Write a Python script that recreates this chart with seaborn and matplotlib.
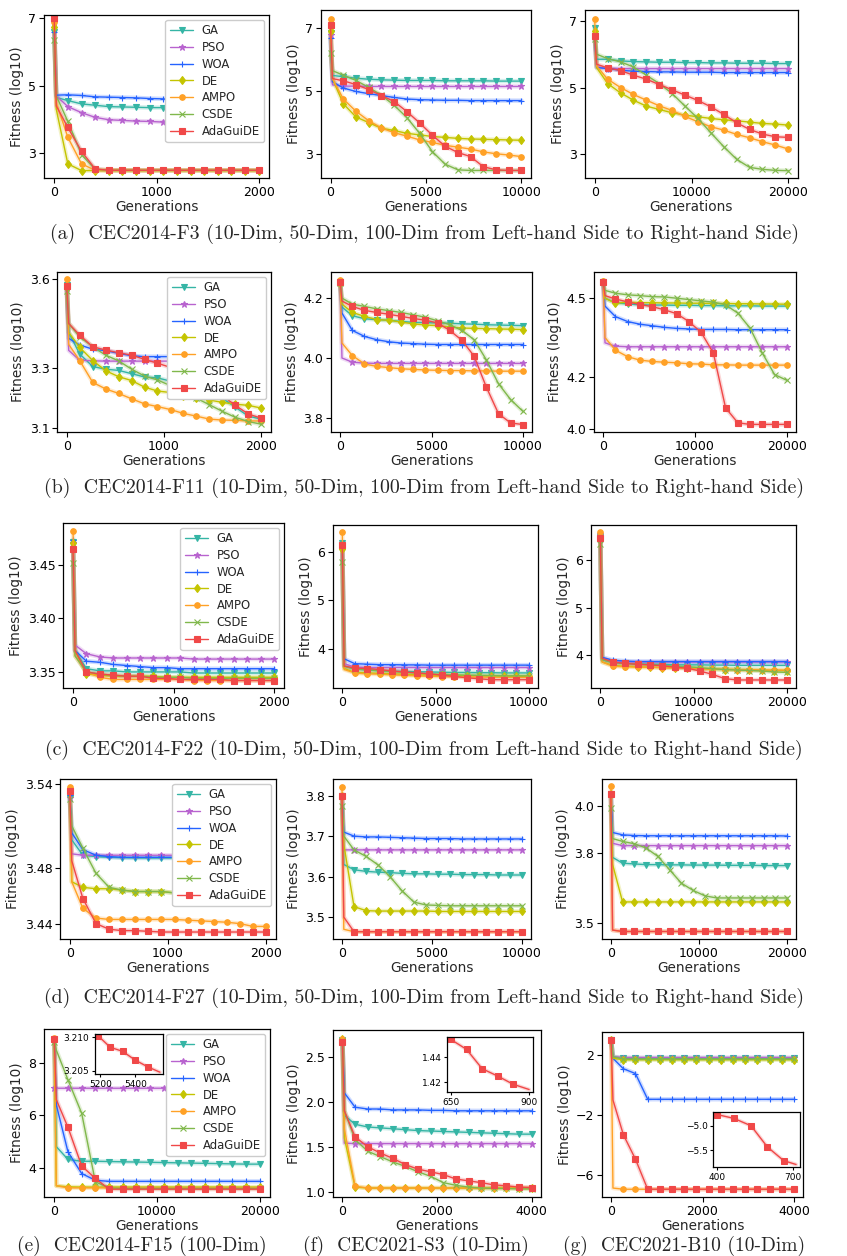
import matplotlib.pyplot as plt
import seaborn as sns

# sample generations: start, one early sample, then the 15 marker positions
GENS_2000 = [0, 20, 133, 267, 400, 533, 667, 800, 933, 1067, 1200, 1333, 1467, 1600, 1733, 1867, 2000]
GENS_4000 = [0, 40, 267, 533, 800, 1067, 1333, 1600, 1867, 2133, 2400, 2667, 2933, 3200, 3467, 3733, 4000]
GENS_10000 = [0, 100, 667, 1333, 2000, 2667, 3333, 4000, 4667, 5333, 6000, 6667, 7333, 8000, 8667, 9333, 10000]
GENS_20000 = [0, 200, 1333, 2667, 4000, 5333, 6667, 8000, 9333, 10667, 12000, 13333, 14667, 16000, 17333, 18667, 20000]

ALGOS = ["GA", "PSO", "WOA", "DE", "AMPO", "CSDE", "AdaGuiDE"]
COLORS = ["#35b5a5", "#b863cf", "#2563ff", "#c4c400", "#ffa126", "#80b84c", "#f04848"]
MARKERS = ["v", "*", "+", "d", "o", "x", "s"]
MSIZES = [4.5, 5, 5, 4.5, 4, 4, 4.3]

# rows: GA, PSO, WOA, DE, AMPO, CSDE, AdaGuiDE  (log10 fitness)
F3_10 = [
    [6.60, 4.65, 4.56, 4.46, 4.42, 4.38, 4.37, 4.36, 4.35, 4.35, 4.34, 4.33, 4.33, 4.32, 4.31, 4.31, 4.30],
    [6.90, 4.70, 4.38, 4.20, 4.06, 3.99, 3.97, 3.95, 3.94, 3.92, 3.91, 3.91, 3.90, 3.90, 3.89, 3.89, 3.88],
    [6.60, 4.72, 4.73, 4.71, 4.67, 4.66, 4.65, 4.64, 4.62, 4.61, 4.60, 4.60, 4.59, 4.58, 4.58, 4.57, 4.57],
    [6.75, 4.30, 2.68, 2.48, 2.48, 2.48, 2.48, 2.48, 2.48, 2.48, 2.48, 2.48, 2.48, 2.48, 2.48, 2.48, 2.48],
    [6.90, 4.50, 3.47, 2.68, 2.49, 2.49, 2.49, 2.49, 2.49, 2.49, 2.49, 2.49, 2.49, 2.49, 2.49, 2.49, 2.49],
    [6.35, 4.70, 3.94, 2.95, 2.52, 2.49, 2.49, 2.49, 2.49, 2.49, 2.49, 2.49, 2.49, 2.49, 2.49, 2.49, 2.49],
    [7.00, 4.40, 3.76, 3.05, 2.53, 2.49, 2.49, 2.49, 2.49, 2.49, 2.49, 2.49, 2.49, 2.49, 2.49, 2.49, 2.49],
]
F3_50 = [
    [6.85, 5.50, 5.46, 5.41, 5.38, 5.36, 5.35, 5.34, 5.34, 5.34, 5.33, 5.33, 5.33, 5.33, 5.32, 5.32, 5.32],
    [6.80, 5.20, 5.16, 5.16, 5.15, 5.15, 5.15, 5.15, 5.15, 5.15, 5.15, 5.15, 5.15, 5.15, 5.15, 5.15, 5.15],
    [6.70, 5.30, 5.10, 4.99, 4.92, 4.86, 4.80, 4.75, 4.73, 4.72, 4.71, 4.71, 4.70, 4.70, 4.70, 4.70, 4.70],
    [6.90, 5.40, 4.60, 4.18, 4.00, 3.82, 3.75, 3.66, 3.61, 3.56, 3.53, 3.50, 3.48, 3.47, 3.46, 3.45, 3.44],
    [7.30, 5.40, 4.75, 4.36, 4.06, 3.83, 3.68, 3.57, 3.45, 3.37, 3.28, 3.22, 3.16, 3.07, 3.01, 2.97, 2.92],
    [6.20, 5.65, 5.51, 5.34, 5.12, 4.87, 4.55, 4.16, 3.66, 3.08, 2.68, 2.50, 2.48, 2.48, 2.48, 2.48, 2.48],
    [7.10, 5.40, 5.33, 5.21, 5.05, 4.86, 4.67, 4.35, 3.99, 3.60, 3.25, 3.05, 2.92, 2.60, 2.50, 2.48, 2.48],
]
F3_100 = [
    [6.80, 5.85, 5.85, 5.80, 5.78, 5.77, 5.76, 5.76, 5.75, 5.75, 5.74, 5.74, 5.73, 5.73, 5.73, 5.72, 5.72],
    [6.60, 5.62, 5.57, 5.57, 5.57, 5.57, 5.57, 5.57, 5.57, 5.57, 5.57, 5.57, 5.57, 5.57, 5.57, 5.57, 5.57],
    [6.50, 5.60, 5.57, 5.52, 5.49, 5.48, 5.47, 5.47, 5.46, 5.46, 5.46, 5.45, 5.45, 5.45, 5.45, 5.45, 5.45],
    [6.70, 5.60, 5.12, 4.84, 4.62, 4.44, 4.34, 4.24, 4.17, 4.12, 4.07, 4.03, 4.00, 3.96, 3.92, 3.90, 3.87],
    [7.05, 5.65, 5.25, 5.00, 4.79, 4.62, 4.45, 4.31, 4.13, 3.97, 3.82, 3.72, 3.59, 3.49, 3.37, 3.27, 3.15],
    [6.45, 6.00, 5.87, 5.77, 5.62, 5.37, 5.12, 4.82, 4.44, 4.07, 3.64, 3.22, 2.84, 2.60, 2.54, 2.51, 2.50],
    [6.55, 5.70, 5.59, 5.51, 5.37, 5.25, 5.09, 4.93, 4.77, 4.61, 4.42, 4.19, 3.94, 3.74, 3.60, 3.52, 3.50],
]
F11_10 = [
    [3.580, 3.420, 3.348, 3.306, 3.297, 3.293, 3.282, 3.271, 3.268, 3.257, 3.250, 3.240, 3.225, 3.200, 3.170, 3.140, 3.130],
    [3.570, 3.360, 3.327, 3.325, 3.324, 3.324, 3.324, 3.324, 3.324, 3.324, 3.324, 3.324, 3.324, 3.324, 3.324, 3.324, 3.324],
    [3.580, 3.400, 3.378, 3.364, 3.359, 3.350, 3.342, 3.339, 3.339, 3.339, 3.338, 3.338, 3.338, 3.338, 3.338, 3.338, 3.338],
    [3.570, 3.420, 3.370, 3.326, 3.292, 3.272, 3.259, 3.237, 3.224, 3.219, 3.209, 3.202, 3.194, 3.186, 3.180, 3.176, 3.167],
    [3.600, 3.380, 3.326, 3.253, 3.231, 3.216, 3.198, 3.181, 3.172, 3.162, 3.149, 3.140, 3.130, 3.127, 3.126, 3.124, 3.124],
    [3.560, 3.450, 3.405, 3.372, 3.344, 3.325, 3.297, 3.274, 3.261, 3.242, 3.217, 3.200, 3.178, 3.156, 3.136, 3.122, 3.113],
    [3.575, 3.450, 3.411, 3.372, 3.361, 3.352, 3.344, 3.330, 3.317, 3.303, 3.290, 3.270, 3.240, 3.209, 3.176, 3.147, 3.133],
]
F11_50 = [
    [4.255, 4.170, 4.141, 4.131, 4.128, 4.126, 4.122, 4.119, 4.118, 4.117, 4.116, 4.114, 4.113, 4.111, 4.110, 4.109, 4.108],
    [4.255, 4.000, 3.986, 3.983, 3.982, 3.982, 3.982, 3.982, 3.982, 3.982, 3.982, 3.982, 3.982, 3.982, 3.982, 3.982, 3.982],
    [4.250, 4.150, 4.092, 4.072, 4.061, 4.054, 4.050, 4.048, 4.046, 4.045, 4.045, 4.045, 4.045, 4.045, 4.045, 4.045, 4.045],
    [4.250, 4.180, 4.152, 4.139, 4.128, 4.126, 4.120, 4.114, 4.110, 4.108, 4.103, 4.100, 4.099, 4.098, 4.097, 4.096, 4.095],
    [4.260, 4.050, 4.008, 3.980, 3.972, 3.968, 3.964, 3.962, 3.960, 3.959, 3.958, 3.958, 3.957, 3.957, 3.956, 3.956, 3.956],
    [4.250, 4.200, 4.180, 4.172, 4.164, 4.158, 4.152, 4.144, 4.136, 4.124, 4.111, 4.092, 4.061, 3.994, 3.914, 3.861, 3.822],
    [4.255, 4.190, 4.172, 4.159, 4.152, 4.146, 4.139, 4.132, 4.126, 4.117, 4.092, 4.059, 4.006, 3.903, 3.814, 3.783, 3.778],
]
F11_100 = [
    [4.560, 4.500, 4.483, 4.478, 4.475, 4.474, 4.474, 4.473, 4.473, 4.472, 4.472, 4.471, 4.471, 4.471, 4.470, 4.470, 4.470],
    [4.560, 4.330, 4.317, 4.315, 4.315, 4.315, 4.315, 4.315, 4.315, 4.315, 4.315, 4.315, 4.315, 4.315, 4.315, 4.315, 4.315],
    [4.560, 4.470, 4.430, 4.411, 4.401, 4.395, 4.389, 4.385, 4.383, 4.381, 4.381, 4.381, 4.380, 4.380, 4.380, 4.380, 4.380],
    [4.560, 4.500, 4.481, 4.485, 4.483, 4.483, 4.482, 4.482, 4.481, 4.481, 4.480, 4.480, 4.479, 4.479, 4.478, 4.478, 4.477],
    [4.565, 4.350, 4.302, 4.277, 4.264, 4.259, 4.256, 4.254, 4.250, 4.249, 4.246, 4.246, 4.245, 4.245, 4.245, 4.245, 4.245],
    [4.560, 4.530, 4.519, 4.513, 4.510, 4.506, 4.505, 4.500, 4.495, 4.490, 4.485, 4.475, 4.443, 4.386, 4.291, 4.209, 4.187],
    [4.560, 4.510, 4.497, 4.486, 4.476, 4.468, 4.456, 4.441, 4.411, 4.370, 4.291, 4.082, 4.025, 4.019, 4.019, 4.019, 4.019],
]
F22_10 = [
    [3.471, 3.370, 3.353, 3.351, 3.351, 3.350, 3.350, 3.350, 3.350, 3.350, 3.349, 3.349, 3.349, 3.349, 3.349, 3.349, 3.349],
    [3.470, 3.375, 3.367, 3.364, 3.363, 3.363, 3.363, 3.363, 3.363, 3.363, 3.362, 3.362, 3.362, 3.362, 3.362, 3.362, 3.362],
    [3.473, 3.370, 3.360, 3.359, 3.357, 3.356, 3.355, 3.354, 3.354, 3.353, 3.353, 3.353, 3.353, 3.353, 3.353, 3.353, 3.353],
    [3.470, 3.370, 3.348, 3.347, 3.346, 3.346, 3.346, 3.346, 3.345, 3.345, 3.345, 3.345, 3.345, 3.345, 3.345, 3.345, 3.345],
    [3.482, 3.365, 3.350, 3.345, 3.343, 3.343, 3.343, 3.343, 3.343, 3.343, 3.342, 3.342, 3.342, 3.342, 3.342, 3.342, 3.342],
    [3.452, 3.365, 3.350, 3.348, 3.347, 3.346, 3.346, 3.345, 3.345, 3.345, 3.344, 3.344, 3.344, 3.344, 3.344, 3.344, 3.344],
    [3.465, 3.370, 3.350, 3.348, 3.347, 3.346, 3.346, 3.344, 3.344, 3.343, 3.343, 3.343, 3.343, 3.342, 3.342, 3.342, 3.342],
]
F22_50 = [
    [6.17, 3.65, 3.59, 3.57, 3.555, 3.545, 3.54, 3.535, 3.53, 3.525, 3.52, 3.52, 3.515, 3.515, 3.51, 3.51, 3.51],
    [6.10, 3.70, 3.63, 3.62, 3.62, 3.62, 3.62, 3.62, 3.62, 3.62, 3.62, 3.62, 3.62, 3.62, 3.62, 3.62, 3.62],
    [6.15, 3.80, 3.70, 3.69, 3.68, 3.68, 3.675, 3.675, 3.67, 3.67, 3.67, 3.67, 3.67, 3.67, 3.67, 3.67, 3.67],
    [6.05, 3.60, 3.52, 3.51, 3.50, 3.49, 3.48, 3.47, 3.465, 3.46, 3.455, 3.45, 3.45, 3.445, 3.445, 3.44, 3.44],
    [6.40, 3.58, 3.51, 3.49, 3.485, 3.47, 3.46, 3.45, 3.44, 3.435, 3.43, 3.43, 3.425, 3.425, 3.42, 3.42, 3.42],
    [5.78, 3.65, 3.59, 3.575, 3.555, 3.54, 3.52, 3.51, 3.49, 3.48, 3.47, 3.465, 3.46, 3.455, 3.45, 3.45, 3.45],
    [6.13, 3.65, 3.61, 3.60, 3.58, 3.55, 3.53, 3.51, 3.49, 3.465, 3.44, 3.41, 3.39, 3.37, 3.37, 3.37, 3.37],
]
F22_100 = [
    [6.50, 3.90, 3.84, 3.82, 3.81, 3.80, 3.80, 3.79, 3.79, 3.79, 3.785, 3.785, 3.78, 3.78, 3.78, 3.78, 3.78],
    [6.55, 3.90, 3.85, 3.85, 3.85, 3.85, 3.85, 3.85, 3.85, 3.85, 3.85, 3.85, 3.85, 3.85, 3.85, 3.85, 3.85],
    [6.50, 3.95, 3.89, 3.87, 3.86, 3.86, 3.86, 3.86, 3.86, 3.86, 3.86, 3.86, 3.86, 3.86, 3.86, 3.86, 3.86],
    [6.50, 3.85, 3.78, 3.76, 3.75, 3.74, 3.73, 3.73, 3.72, 3.71, 3.70, 3.69, 3.69, 3.68, 3.68, 3.67, 3.67],
    [6.60, 3.85, 3.76, 3.75, 3.74, 3.74, 3.73, 3.72, 3.72, 3.71, 3.70, 3.70, 3.69, 3.69, 3.68, 3.68, 3.68],
    [6.35, 3.90, 3.84, 3.82, 3.81, 3.79, 3.78, 3.76, 3.75, 3.73, 3.71, 3.69, 3.68, 3.67, 3.66, 3.64, 3.63],
    [6.48, 3.93, 3.85, 3.82, 3.80, 3.79, 3.77, 3.74, 3.72, 3.66, 3.59, 3.50, 3.47, 3.47, 3.47, 3.47, 3.47],
]
F27_10 = [
    [3.530, 3.500, 3.489, 3.488, 3.4875, 3.4872, 3.487, 3.487, 3.487, 3.487, 3.487, 3.487, 3.487, 3.487, 3.487, 3.487, 3.487],
    [3.530, 3.490, 3.489, 3.489, 3.489, 3.489, 3.489, 3.489, 3.489, 3.489, 3.489, 3.489, 3.489, 3.489, 3.489, 3.489, 3.489],
    [3.532, 3.505, 3.493, 3.489, 3.488, 3.4875, 3.4875, 3.4875, 3.4875, 3.4875, 3.4875, 3.4875, 3.4875, 3.4875, 3.4875, 3.4875, 3.4875],
    [3.536, 3.470, 3.466, 3.465, 3.465, 3.464, 3.463, 3.463, 3.463, 3.462, 3.462, 3.462, 3.462, 3.462, 3.462, 3.462, 3.462],
    [3.538, 3.470, 3.451, 3.444, 3.443, 3.443, 3.443, 3.443, 3.443, 3.443, 3.4425, 3.442, 3.4415, 3.441, 3.440, 3.438, 3.438],
    [3.529, 3.510, 3.494, 3.476, 3.466, 3.464, 3.463, 3.463, 3.463, 3.462, 3.462, 3.462, 3.462, 3.462, 3.462, 3.462, 3.462],
    [3.535, 3.485, 3.458, 3.440, 3.436, 3.435, 3.435, 3.4345, 3.434, 3.434, 3.434, 3.434, 3.434, 3.434, 3.434, 3.434, 3.434],
]
F27_50 = [
    [3.800, 3.630, 3.617, 3.613, 3.611, 3.610, 3.608, 3.607, 3.607, 3.606, 3.606, 3.605, 3.605, 3.605, 3.604, 3.604, 3.604],
    [3.800, 3.666, 3.666, 3.666, 3.666, 3.666, 3.666, 3.666, 3.666, 3.666, 3.666, 3.666, 3.666, 3.666, 3.666, 3.666, 3.666],
    [3.800, 3.710, 3.700, 3.698, 3.698, 3.697, 3.696, 3.695, 3.694, 3.694, 3.694, 3.693, 3.693, 3.693, 3.693, 3.693, 3.693],
    [3.800, 3.680, 3.526, 3.516, 3.515, 3.515, 3.515, 3.515, 3.515, 3.514, 3.514, 3.514, 3.514, 3.514, 3.514, 3.514, 3.514],
    [3.822, 3.470, 3.464, 3.464, 3.464, 3.464, 3.464, 3.464, 3.464, 3.464, 3.464, 3.464, 3.464, 3.464, 3.464, 3.464, 3.464],
    [3.775, 3.700, 3.666, 3.650, 3.629, 3.600, 3.565, 3.537, 3.530, 3.529, 3.528, 3.528, 3.528, 3.528, 3.528, 3.528, 3.528],
    [3.800, 3.500, 3.464, 3.464, 3.464, 3.464, 3.464, 3.464, 3.464, 3.464, 3.464, 3.464, 3.464, 3.464, 3.464, 3.464, 3.464],
]
F27_100 = [
    [4.050, 3.780, 3.755, 3.752, 3.749, 3.749, 3.748, 3.748, 3.747, 3.747, 3.747, 3.746, 3.746, 3.746, 3.745, 3.745, 3.745],
    [4.050, 3.840, 3.830, 3.830, 3.830, 3.830, 3.830, 3.830, 3.830, 3.830, 3.830, 3.830, 3.830, 3.830, 3.830, 3.830, 3.830],
    [4.050, 3.886, 3.876, 3.873, 3.872, 3.872, 3.872, 3.872, 3.872, 3.872, 3.872, 3.872, 3.872, 3.872, 3.872, 3.872, 3.871],
    [4.050, 3.750, 3.590, 3.590, 3.590, 3.590, 3.590, 3.590, 3.590, 3.590, 3.590, 3.590, 3.590, 3.590, 3.590, 3.590, 3.590],
    [4.083, 3.470, 3.464, 3.464, 3.464, 3.464, 3.464, 3.464, 3.464, 3.464, 3.464, 3.464, 3.464, 3.464, 3.464, 3.464, 3.464],
    [3.990, 3.860, 3.848, 3.838, 3.820, 3.784, 3.727, 3.670, 3.639, 3.616, 3.607, 3.607, 3.607, 3.607, 3.607, 3.607, 3.607],
    [4.050, 3.470, 3.464, 3.464, 3.464, 3.464, 3.464, 3.464, 3.464, 3.464, 3.464, 3.464, 3.464, 3.464, 3.464, 3.464, 3.464],
]
F15_100 = [
    [8.90, 4.80, 4.31, 4.24, 4.24, 4.23, 4.22, 4.21, 4.20, 4.19, 4.18, 4.17, 4.16, 4.15, 4.14, 4.13, 4.13],
    [7.05, 7.04, 7.04, 7.04, 7.04, 7.04, 7.04, 7.04, 7.04, 7.04, 7.04, 7.04, 7.04, 7.04, 7.04, 7.04, 7.04],
    [8.90, 6.40, 4.60, 3.77, 3.51, 3.47, 3.47, 3.47, 3.47, 3.47, 3.47, 3.47, 3.47, 3.47, 3.47, 3.47, 3.47],
    [8.90, 3.30, 3.26, 3.25, 3.25, 3.25, 3.25, 3.25, 3.25, 3.25, 3.25, 3.25, 3.25, 3.25, 3.25, 3.25, 3.25],
    [8.95, 3.30, 3.22, 3.22, 3.22, 3.22, 3.22, 3.22, 3.22, 3.22, 3.22, 3.22, 3.22, 3.22, 3.22, 3.22, 3.22],
    [8.80, 8.50, 7.36, 6.08, 3.45, 3.22, 3.20, 3.20, 3.20, 3.20, 3.20, 3.20, 3.20, 3.20, 3.20, 3.20, 3.20],
    [8.94, 6.60, 5.54, 4.06, 3.58, 3.17, 3.17, 3.17, 3.17, 3.17, 3.17, 3.17, 3.17, 3.17, 3.17, 3.17, 3.17],
]
S3_10 = [
    [2.69, 1.85, 1.75, 1.72, 1.71, 1.70, 1.69, 1.68, 1.675, 1.67, 1.665, 1.66, 1.655, 1.65, 1.645, 1.64, 1.64],
    [2.69, 1.54, 1.535, 1.535, 1.535, 1.535, 1.535, 1.535, 1.535, 1.535, 1.535, 1.535, 1.535, 1.535, 1.535, 1.535, 1.535],
    [2.69, 2.10, 1.94, 1.92, 1.92, 1.91, 1.91, 1.91, 1.905, 1.905, 1.90, 1.90, 1.90, 1.90, 1.90, 1.90, 1.90],
    [2.70, 1.60, 1.05, 1.04, 1.04, 1.04, 1.04, 1.04, 1.04, 1.04, 1.04, 1.04, 1.04, 1.04, 1.04, 1.04, 1.04],
    [2.70, 1.70, 1.06, 1.04, 1.04, 1.04, 1.04, 1.04, 1.04, 1.04, 1.04, 1.04, 1.04, 1.04, 1.04, 1.04, 1.04],
    [2.68, 1.90, 1.58, 1.45, 1.39, 1.33, 1.28, 1.22, 1.17, 1.10, 1.07, 1.05, 1.04, 1.035, 1.035, 1.03, 1.03],
    [2.67, 1.90, 1.61, 1.50, 1.43, 1.37, 1.30, 1.25, 1.22, 1.19, 1.14, 1.12, 1.10, 1.075, 1.065, 1.05, 1.045],
]
B10_10 = [
    [3.00, 1.90, 1.80, 1.80, 1.80, 1.80, 1.80, 1.80, 1.80, 1.80, 1.80, 1.80, 1.80, 1.80, 1.80, 1.80, 1.80],
    [3.00, 1.90, 1.85, 1.85, 1.85, 1.85, 1.85, 1.85, 1.85, 1.85, 1.85, 1.85, 1.85, 1.85, 1.85, 1.85, 1.85],
    [3.00, 1.80, 1.10, 0.77, -0.95, -0.95, -0.95, -0.95, -0.95, -0.95, -0.95, -0.95, -0.95, -0.95, -0.95, -0.95, -0.95],
    [3.00, 1.80, 1.70, 1.70, 1.70, 1.70, 1.70, 1.70, 1.70, 1.70, 1.70, 1.70, 1.70, 1.70, 1.70, 1.70, 1.70],
    [3.00, -6.90, -6.98, -6.98, -6.98, -6.98, -6.98, -6.98, -6.98, -6.98, -6.98, -6.98, -6.98, -6.98, -6.98, -6.98, -6.98],
    [3.00, 1.90, 1.75, 1.75, 1.75, 1.75, 1.75, 1.75, 1.75, 1.75, 1.75, 1.75, 1.75, 1.75, 1.75, 1.75, 1.75],
    [3.05, -1.00, -3.32, -4.97, -6.98, -6.98, -6.98, -6.98, -6.98, -6.98, -6.98, -6.98, -6.98, -6.98, -6.98, -6.98, -6.98],
]

# zoomed AdaGuiDE segments for the insets
F15_INSET_GENS = [5187, 5256, 5326, 5398, 5469, 5539]
F15_INSET_VALS = [3.2102, 3.2085, 3.2079, 3.2066, 3.2056, 3.2048]
S3_INSET_GENS = [650, 700, 750, 800, 849, 900]
S3_INSET_VALS = [1.4541, 1.4462, 1.4307, 1.4248, 1.4183, 1.4141]
B10_INSET_GENS = [400, 467, 534, 598, 662, 711]
B10_INSET_VALS = [-4.77, -4.85, -5.00, -5.43, -5.71, -5.79]

CAPTIONS = [
    "(a)  CEC2014-F3 (10-Dim, 50-Dim, 100-Dim from Left-hand Side to Right-hand Side)",
    "(b)  CEC2014-F11 (10-Dim, 50-Dim, 100-Dim from Left-hand Side to Right-hand Side)",
    "(c)  CEC2014-F22 (10-Dim, 50-Dim, 100-Dim from Left-hand Side to Right-hand Side)",
    "(d)  CEC2014-F27 (10-Dim, 50-Dim, 100-Dim from Left-hand Side to Right-hand Side)",
    "(e)  CEC2014-F15 (100-Dim)",
    "(f)  CEC2021-S3 (10-Dim)",
    "(g)  CEC2021-B10 (10-Dim)",
]

sns.set_style("ticks")
plt.rcParams["font.family"] = "DejaVu Sans"
plt.rcParams["axes.edgecolor"] = "black"
plt.rcParams["axes.linewidth"] = 0.9
plt.rcParams["xtick.color"] = "black"
plt.rcParams["ytick.color"] = "black"
plt.rcParams["xtick.major.size"] = 3.5
plt.rcParams["ytick.major.size"] = 3.5
plt.rcParams["xtick.major.width"] = 0.8
plt.rcParams["ytick.major.width"] = 0.8

W, H = 847, 1256
fig = plt.figure(figsize=(W / 100, H / 100), dpi=100)


def box(l, t, r, b):
    # pixel box -> figure fraction
    return [l / W, 1 - b / H, (r - l) / W, (b - t) / H]


MARK_IDX = [0] + list(range(2, 17))

# (data, gens, pixel box, ylim, yticks, yticklabels, xticks, legend)
panels = [
    (F3_10, GENS_2000, (44, 15, 269, 178), (2.26, 7.1), [3, 5, 7], ["3", "5", "7"], [0, 1000, 2000], True),
    (F3_50, GENS_10000, (321, 10, 531, 178), (2.24, 7.58), [3, 5, 7], ["3", "5", "7"], [0, 5000, 10000], False),
    (F3_100, GENS_20000, (585, 10, 798, 178), (2.28, 7.33), [3, 5, 7], ["3", "5", "7"], [0, 10000, 20000], False),
    (F11_10, GENS_2000, (57, 272, 271, 432), (3.087, 3.622), [3.1, 3.3, 3.6], ["3.1", "3.3", "3.6"], [0, 1000, 2000], True),
    (F11_50, GENS_10000, (331, 272, 532, 432), (3.753, 4.287), [3.8, 4.0, 4.2], ["3.8", "4.0", "4.2"], [0, 5000, 10000], False),
    (F11_100, GENS_20000, (594, 272, 796, 432), (3.99, 4.60), [4.0, 4.2, 4.5], ["4.0", "4.2", "4.5"], [0, 10000, 20000], False),
    (F22_10, GENS_2000, (63, 523, 284, 688), (3.335, 3.489), [3.35, 3.40, 3.45], ["3.35", "3.40", "3.45"], [0, 1000, 2000], True),
    (F22_50, GENS_10000, (333, 525, 538, 688), (3.2, 6.55), [4, 5, 6], ["4", "5", "6"], [0, 5000, 10000], False),
    (F22_100, GENS_20000, (591, 525, 796, 688), (3.3, 6.75), [4, 5, 6], ["4", "5", "6"], [0, 10000, 20000], False),
    (F27_10, GENS_2000, (60, 779, 276, 939), (3.429, 3.5436), [3.44, 3.48, 3.54], ["3.44", "3.48", "3.54"], [0, 1000, 2000], True),
    (F27_50, GENS_10000, (333, 779, 531, 939), (3.446, 3.841), [3.5, 3.6, 3.7, 3.8], ["3.5", "3.6", "3.7", "3.8"], [0, 5000, 10000], False),
    (F27_100, GENS_20000, (602, 779, 796, 939), (3.432, 4.114), [3.5, 3.8, 4.0], ["3.5", "3.8", "4.0"], [0, 10000, 20000], False),
    (F15_100, GENS_20000, (44, 1029, 270, 1197), (2.87, 9.31), [4, 6, 8], ["4", "6", "8"], [0, 10000, 20000], True),
    (S3_10, GENS_4000, (333, 1030, 541, 1197), (0.94, 2.8), [1.0, 1.5, 2.0, 2.5], ["1.0", "1.5", "2.0", "2.5"], [0, 2000, 4000], False),
    (B10_10, GENS_4000, (602, 1032, 803, 1197), (-7.5, 3.56), [-6, -2, 2], ["\u22126", "\u22122", "2"], [0, 2000, 4000], False),
]

axes = []
for rows, gens, px, ylim, yt, ytl, xt, with_legend in panels:
    ax = fig.add_axes(box(*px))
    for name, vals, color, marker, ms in zip(ALGOS, rows, COLORS, MARKERS, MSIZES):
        # faint band under each curve
        ax.plot(gens, vals, color=color, lw=3.2, alpha=0.22, zorder=1)
        kw = dict(label=name) if with_legend else {}
        sns.lineplot(x=gens, y=vals, ax=ax, color=color, marker=marker, markersize=ms,
                     markevery=MARK_IDX, markeredgecolor=color, markeredgewidth=0.8,
                     lw=1.0, zorder=2, **kw)
    span = gens[-1]
    ax.set_xlim(-0.05 * span, 1.05 * span)
    ax.set_ylim(*ylim)
    ax.set_xticks(xt)
    ax.set_yticks(yt, ytl)
    ax.tick_params(labelsize=9, pad=2)
    ax.set_xlabel("Generations", fontsize=9.8, labelpad=1)
    ax.set_ylabel("Fitness (log10)", fontsize=9.8, labelpad=3)
    if with_legend:
        ax.legend(loc="upper right", fontsize=8.4, labelspacing=0.32, borderaxespad=0.4,
                  handlelength=2.0, handletextpad=0.7, framealpha=1.0, edgecolor="0.8")
    elif ax.get_legend() is not None:
        ax.get_legend().remove()
    axes.append(ax)

# insets
insets = [
    ((95, 1034, 163, 1074), F15_INSET_GENS, F15_INSET_VALS, [5200, 5400], ["5200", "5400"], [3.205, 3.210], ["3.205", "3.210"]),
    ((447, 1037, 533, 1092), S3_INSET_GENS, S3_INSET_VALS, [650, 900], ["650", "900"], [1.42, 1.44], ["1.42", "1.44"]),
    ((713, 1112, 800, 1167), B10_INSET_GENS, B10_INSET_VALS, [400, 700], ["400", "700"], [-5.5, -5.0], ["\u22125.5", "\u22125.0"]),
]
for px, gx, gy, xt, xtl, yt, ytl in insets:
    ins = fig.add_axes(box(*px))
    ins.plot(gx, gy, color=COLORS[6], lw=2.8, alpha=0.22, zorder=1)
    sns.lineplot(x=gx, y=gy, ax=ins, color=COLORS[6], marker="s", markersize=4,
                 markevery=[0, 1, 2, 3, 4], markeredgecolor=COLORS[6], lw=1.0, zorder=2)
    ins.set_xticks(xt, xtl)
    ins.set_yticks(yt, ytl)
    ins.tick_params(labelsize=6.5, length=2.5, pad=1.5)
    ins.set_xlabel("")
    ins.set_ylabel("")

# sub-figure captions
cap_pos = [(424, 234), (424, 488), (424, 750), (424, 998), (142, 1246), (416, 1246), (684, 1246)]
cap_size = [14.3, 14.3, 14.3, 14.3, 14.0, 14.0, 14.0]
for text, (cx, cy), fs in zip(CAPTIONS, cap_pos, cap_size):
    fig.text(cx / W, 1 - cy / H, text, ha="center", va="center", fontsize=fs, fontfamily="cmr10")

fig.savefig("out.png", dpi=100)
